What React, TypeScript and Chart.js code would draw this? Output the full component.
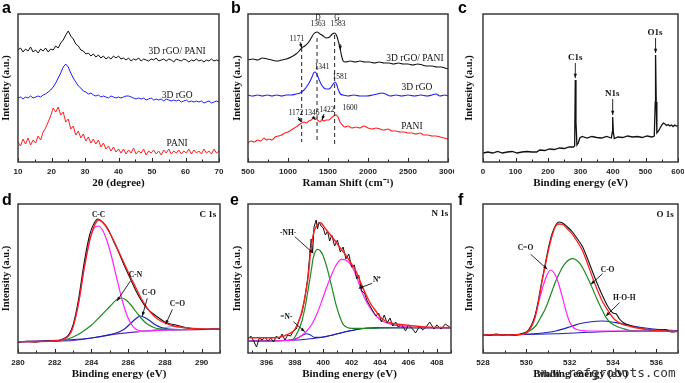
import React, { useEffect, useRef } from "react";
import { Chart, registerables } from "chart.js";
Chart.register(...registerables);

type P = [number, number][];

// ---------- Panel a : XRD (x grid 10..70 step 0.75) ----------
const A_X0 = 10;
const A_STEP = 0.75;
const A_BLACK = [112,114,110,113,111,115,110,112,109,113,111,114,110,113,112,116,114,119,122,127,131,126,123,118,116,112,111,108,109,106,108,105,107,104,106,103,105,103,106,104,106,103,104,102,104,101,103,102,104,101,103,102,101,103,102,104,101,102,103,101,103,102,100,103,102,101,103,102,100,102,101,103,101,102,100,102,101,103,101,102,101];
const A_BLUE = [64,65,63,65,64,66,64,65,66,65,67,68,70,72,75,79,84,89,95,98,95,89,84,80,76,74,71,70,68,69,67,66,67,65,66,65,64,66,65,64,65,64,65,66,66,65,64,63,64,63,64,62,63,64,62,63,62,63,61,63,62,61,62,61,62,60,61,62,60,61,60,61,60,61,59,60,61,59,60,61,60];
const A_RED = [20,16,23,18,24,17,22,19,26,22,30,34,40,46,54,50,55,47,50,40,43,33,36,27,31,24,28,21,25,19,23,18,22,15,19,13,16,11,15,10,13,9,13,8,12,9,14,8,11,9,13,7,11,9,12,8,11,7,12,9,13,8,11,9,12,8,11,9,13,8,12,9,11,8,13,9,11,8,13,9,11];
const A_TICKS = [10, 20, 30, 40, 50, 60, 70];

// ---------- Panel b : Raman ----------
const B_BLACK: P = [[500,102],[560,103],[620,102],[680,104],[740,103],[800,102],[860,101],[920,102],[980,103],[1040,105],[1100,108],[1140,111],[1171,114],[1210,116],[1250,119],[1290,124],[1320,128],[1363,130],[1400,128],[1440,126],[1480,124],[1520,125],[1555,128],[1583,129],[1610,126],[1635,119],[1650,114],[1670,106],[1690,101],[1720,100],[1780,101],[1840,100],[1900,101],[1960,100],[2020,100],[2080,99],[2140,100],[2200,99],[2260,99],[2320,98],[2380,99],[2440,98],[2500,98],[2560,97],[2620,98],[2680,97],[2740,96],[2800,96],[2860,95],[2920,95],[2960,94],[3000,93]];
const B_BLUE: P = [[500,67],[560,66],[620,67],[680,66],[740,67],[800,66],[860,67],[920,66],[980,67],[1040,67],[1100,68],[1150,69],[1200,72],[1240,76],[1270,80],[1300,85],[1320,89],[1341,90],[1365,87],[1390,82],[1420,77],[1450,74],[1480,73],[1510,73],[1540,75],[1565,78],[1590,80],[1610,77],[1630,72],[1655,68],[1690,67],[1750,66],[1820,67],[1900,66],[1980,66],[2060,67],[2120,68],[2170,69],[2220,68],[2280,66],[2350,67],[2420,66],[2500,67],[2580,66],[2660,67],[2740,66],[2800,67],[2850,68],[2900,66],[2960,67],[3000,66]];
const B_RED: P = [[500,19],[540,21],[580,20],[620,22],[660,21],[700,24],[730,22],[760,23],[800,22],[840,25],[880,26],[920,27],[960,29],[1000,30],[1040,32],[1080,34],[1120,36],[1150,38],[1172,39],[1200,40],[1230,39],[1260,41],[1290,42],[1320,44],[1346,44],[1370,42],[1400,40],[1422,42],[1450,41],[1480,42],[1510,42],[1540,44],[1570,46],[1600,47],[1625,45],[1650,40],[1680,37],[1710,35],[1750,36],[1800,34],[1850,35],[1900,34],[1950,36],[2000,34],[2050,33],[2100,34],[2150,33],[2200,32],[2250,33],[2300,31],[2350,31],[2400,30],[2450,30],[2500,29],[2550,29],[2600,28],[2650,29],[2700,27],[2750,27],[2800,26],[2850,26],[2900,25],[2950,24],[3000,23]];
const B_DASH_1: P = [[1171,114],[1171,20]];
const B_DASH_2: P = [[1363,124],[1363,19]];
const B_DASH_3: P = [[1583,127],[1583,15]];
const B_TICKS = [500, 1000, 1500, 2000, 2500, 3000];

// ---------- Panel c : XPS survey ----------
const C_BLACK: P = [[0,9],[15,10],[30,9],[45,10.5],[60,9],[75,10],[90,10.5],[105,9],[120,10],[135,10.5],[150,10],[165,10],[175,12],[190,11.5],[205,13],[220,12.5],[235,14],[250,13.5],[265,15],[278,15],[282,16],[284,82],[286,40],[289,17],[293,19],[298,24],[305,25.5],[320,24],[335,25.5],[350,24.5],[365,24],[380,25.5],[395,24],[398,30],[399,45],[401,30],[404,23.5],[415,25],[430,24.5],[445,26],[460,25],[475,25.5],[490,24.5],[505,26],[520,25],[527,26],[530,60],[531,107],[533,60],[535,29],[540,31],[545,34],[550,37],[555,39],[560,38],[565,36.5],[570,37.5],[575,36],[580,37],[585,35.5],[590,37],[595,36],[600,36.5]];
const C_TICKS = [0, 100, 200, 300, 400, 500, 600];

// ---------- Panel d : C 1s ----------
const D_BG: P = [[280,11.3],[281,11.5],[282,11.8],[283,12.5],[283.5,13.5],[284,15],[284.5,16.5],[285,18],[285.5,19.3],[286,20.3],[286.5,21.2],[287,22],[287.5,22.6],[288,23],[289,23.4],[290,23.6],[291,23.7]];
const D_CC: P = [[280,11.3],[282,11.8],[282.5,13.5],[283,27],[283.3,50],[283.6,85],[283.9,113],[284.15,125],[284.35,127],[284.6,123],[284.85,112],[285.1,96],[285.35,77],[285.6,58],[285.85,42],[286.1,31],[286.4,24],[286.8,22],[287.2,22.2],[288,23],[289,23.4],[291,23.7]];
const D_CN: P = [[280,11.3],[282,11.9],[282.5,13],[283,16],[283.5,21],[284,28],[284.5,37],[285,46.5],[285.35,53],[285.6,55],[285.85,53.5],[286.1,49],[286.4,42],[286.7,35],[287,29.5],[287.4,25.5],[287.8,23.8],[288.3,23.3],[289,23.4],[291,23.7]];
const D_CO: P = [[280,11.3],[284,15],[285,18.3],[285.5,21],[285.8,24],[286.1,29],[286.4,34],[286.65,37],[286.9,35.5],[287.2,32],[287.5,28],[287.8,25.5],[288.2,24],[288.8,23.5],[291,23.7]];
const D_CEO: P = [[286.5,21.3],[287.5,23.2],[288,25.3],[288.4,26.5],[288.8,25.8],[289.3,24.4],[290,23.8],[291,23.7]];
const D_FIT: P = [[280,11.3],[281,11.5],[282,12],[282.5,14],[282.8,18],[283,26],[283.3,50],[283.6,84],[283.9,112],[284.15,127],[284.4,133],[284.65,130],[284.9,123],[285.2,113],[285.5,101],[285.8,89],[286.1,77],[286.4,66],[286.7,55],[287,46],[287.3,39],[287.6,34],[288,30],[288.5,27],[289,25.5],[289.5,24.7],[290,24.2],[291,23.8]];
const D_RAW: P = [[280,11],[280.5,11.6],[281,11.1],[281.5,12],[282,11.7],[282.5,14.5],[282.8,19],[283,28],[283.3,54],[283.6,90],[283.9,118],[284.15,130],[284.35,134],[284.6,131],[284.9,124],[285.2,112],[285.5,100],[285.8,87],[286.1,75],[286.4,63],[286.7,53],[287,45],[287.3,40],[287.6,36],[288,31],[288.3,29],[288.6,28],[289,26],[289.4,24.5],[289.8,24],[290.2,23.5],[290.6,24],[291,23.5]];
const D_TICKS = [280, 282, 284, 286, 288, 290];

// ---------- Panel e : N 1s ----------
const E_BG: P = [[394.7,12],[397.8,12.7],[398.8,13.8],[399.7,15.3],[400.5,17.5],[401.3,20.3],[402.2,23],[403,24.7],[404,25.2],[404.9,25.3],[409,25.3]];
const E_N: P = [[394.7,12],[397.6,12.7],[398.2,15],[398.5,17.5],[398.8,19.3],[399.1,18],[399.4,15.6],[399.8,15.6],[400.5,17.5],[401.3,20.3],[402.2,23],[403,24.7],[404,25.2],[409,25.3]];
const E_NH: P = [[394.7,12],[397.8,13],[398.2,21],[398.5,32],[398.75,48],[398.96,65.3],[399.15,82],[399.3,95.3],[399.6,103.7],[399.8,102],[400,97],[400.25,86],[400.5,72],[400.75,57],[400.96,45.3],[401.2,35],[401.4,28.7],[401.7,25.5],[402,24.7],[403,24.7],[404.9,25.3],[409,25.3]];
const E_NP: P = [[394.7,12],[397.8,12.7],[398.25,15.3],[398.7,20],[399.2,28.7],[399.55,39],[399.9,52],[400.25,66],[400.6,78.7],[400.95,89],[401.3,93.7],[401.65,92.5],[402,87],[402.35,76],[402.7,62],[403.05,51],[403.45,42],[403.8,36],[404.15,32],[404.7,29],[405.3,27],[406,26],[407.2,25.3],[409,25.3]];
const E_FIT: P = [[394.7,15.3],[396.6,15.3],[397.5,18.7],[398,23.7],[398.5,42],[398.96,78.7],[399.1,100],[399.3,118.7],[399.55,128],[399.8,130.3],[400.1,125.3],[400.4,120],[400.85,112],[401.2,105],[401.55,98.7],[401.9,91],[402.3,82],[402.65,70],[403,58.7],[403.35,49],[403.7,42],[404,36],[404.4,32],[404.8,30],[405.3,28.7],[407.2,26],[409,25.3]];
const E_RAW: P = [[394.7,14],[394.9,17],[395.1,12],[395.3,6],[395.5,15],[395.7,13],[395.9,16],[396.1,12],[396.3,15],[396.5,11],[396.7,17],[396.9,14],[397.1,19],[397.3,13],[397.5,18],[397.7,17],[397.9,22],[398.1,24],[398.3,33],[398.5,40],[398.7,55],[398.9,74],[399.05,98],[399.15,114],[399.25,100],[399.35,126],[399.5,133],[399.6,124],[399.7,131],[399.85,127],[400,125],[400.15,118],[400.3,122],[400.45,112],[400.6,118],[400.8,107],[401,113],[401.2,101],[401.4,106],[401.6,94],[401.8,99],[402,86],[402.2,88],[402.35,74],[402.5,78],[402.7,62],[402.9,60],[403.1,52],[403.3,47],[403.5,42],[403.7,37],[403.9,40],[404.1,31],[404.3,38],[404.5,30],[404.7,35],[404.9,27],[405.1,31],[405.3,26],[405.5,29],[405.8,22],[406,28],[406.3,24],[406.5,20],[406.8,27],[407,23],[407.3,27],[407.5,31],[407.8,24],[408,28],[408.3,24],[408.6,29],[409,25]];
const E_TICKS = [396, 398, 400, 402, 404, 406, 408];

// ---------- Panel f : O 1s ----------
const F_BG: P = [[528,18],[531.36,19.3],[532.9,20.7],[534.45,21.7],[537,22]];
const F_HOH: P = [[528,18],[529.8,18.7],[530.5,19.5],[531.36,22],[532.13,27],[532.5,29.5],[532.9,31],[533.5,32],[534.14,30.3],[534.5,28.8],[534.9,27],[535.5,25],[536,23.7],[537,22]];
const F_CEO: P = [[528,18],[529.8,18.7],[530.1,22],[530.27,28.7],[530.43,39],[530.58,52],[530.75,65],[530.9,75.3],[531.12,83],[531.36,77],[531.52,67],[531.67,55.3],[531.82,43],[531.98,32],[532.15,26],[532.3,23.7],[532.9,22],[537,22]];
const F_CO: P = [[528,18],[529.8,18.7],[530.1,21.5],[530.43,27],[530.65,35],[530.9,45.3],[531.12,58],[531.36,72],[531.6,83],[531.82,90.3],[532.13,94.3],[532.5,88.7],[532.7,81],[532.9,72],[533.1,62],[533.3,52],[533.5,43],[533.68,35.3],[533.9,30],[534.14,27],[534.45,24.5],[534.76,22.7],[535.5,22.2],[537,22]];
const F_FIT: P = [[528,18],[529,18.2],[529.8,18.7],[530.1,22],[530.4,35.3],[530.55,50],[530.7,68.7],[530.88,88],[531.05,105.3],[531.2,118],[531.36,127],[531.5,129],[531.67,128.7],[531.9,124],[532.13,118.7],[532.36,111],[532.6,102],[532.83,89],[533.06,75.3],[533.28,63],[533.5,52],[533.75,43],[534,35.3],[534.2,31.5],[534.45,28.7],[534.8,26.5],[535.2,24.7],[536,22.7],[537,21.3]];
const F_RAW: P = [[528,18.5],[528.3,17.5],[528.6,19],[528.9,18],[529.2,18.5],[529.5,17.8],[529.8,19.5],[530.1,23],[530.4,37],[530.55,52],[530.7,70],[530.88,90],[531.05,108],[531.2,120],[531.36,128],[531.5,131],[531.67,130],[531.9,126],[532.13,121],[532.36,114],[532.6,106],[532.83,94],[533.06,81],[533.28,69],[533.5,58],[533.75,47],[534,40],[534.15,39],[534.3,34],[534.5,30],[534.8,27.5],[535.2,25],[535.6,23.5],[536,22.5],[536.4,23.5],[536.7,21],[537,22]];
const F_TICKS = [528, 530, 532, 534, 536];

// ---------- helpers ----------
const SERIF = '"Liberation Serif", "Times New Roman", serif';
const SANS = '"Liberation Sans", Arial, sans-serif';

const pts = (p: P) => p.map(([x, y]) => ({ x, y }));
const gridPts = (ys: number[], x0: number, step: number) => ys.map((y, i) => ({ x: x0 + i * step, y }));
function ln(data: any[], color: string, width = 1, extra: any = {}) {
  return { data, borderColor: color, borderWidth: width, pointRadius: 0, fill: false, tension: 0, ...extra };
}
const SM = { cubicInterpolationMode: "monotone" };

type Txt = { t: string; x: number; y: number; s: number; b?: boolean; a?: CanvasTextAlign };
type Arr = [number, number, number, number];

interface Cfg {
  left: number; top: number; w: number; h: number;
  padT: number; padR: number; yW: number; yPad: number; yMax: number;
  xMin: number; xMax: number; ticks: number[]; minor: number; xTitle: string;
  datasets: any[]; texts: Txt[]; arrows: Arr[];
}

const BLK = "#111";
const RED = "#ff1f1f";
const BLU = "#1f1fff";
const MAG = "#ff22ff";
const GRN = "#1e8a1e";
const NAV = "#2020b8";
const PUR = "#5a2ad0";

const PANELS: Cfg[] = [
  {
    left: 0, top: 0, w: 226, h: 192, padT: 14, padR: 7, yW: 18, yPad: 0, yMax: 148,
    xMin: 10, xMax: 70, ticks: A_TICKS, minor: 5, xTitle: "2θ (degree)",
    datasets: [
      ln(gridPts(A_BLACK, A_X0, A_STEP), BLK, 1),
      ln(gridPts(A_BLUE, A_X0, A_STEP), BLU, 1),
      ln(gridPts(A_RED, A_X0, A_STEP), RED, 1),
    ],
    texts: [
      { t: "3D rGO/ PANI", x: 57.5, y: 111, s: 9.5 },
      { t: "3D rGO", x: 57.5, y: 67, s: 9.5 },
      { t: "PANI", x: 57.5, y: 19, s: 9.5 },
    ],
    arrows: [],
  },
  {
    left: 230, top: 0, w: 224, h: 192, padT: 14, padR: 6, yW: 18, yPad: 1.4, yMax: 148,
    xMin: 500, xMax: 3000, ticks: B_TICKS, minor: 250, xTitle: "Raman Shift (cm⁻¹)",
    datasets: [
      ln(pts(B_DASH_1), "#222", 1, { borderDash: [4, 3] }),
      ln(pts(B_DASH_2), "#222", 1, { borderDash: [4, 3] }),
      ln(pts(B_DASH_3), "#222", 1, { borderDash: [4, 3] }),
      ln(pts(B_BLACK), BLK, 1.1, SM),
      ln(pts(B_BLUE), BLU, 1.1, SM),
      ln(pts(B_RED), RED, 1.1, SM),
    ],
    texts: [
      { t: "D", x: 1375, y: 144, s: 7.5 },
      { t: "1363", x: 1375, y: 138, s: 7.5 },
      { t: "G", x: 1612, y: 144, s: 7.5 },
      { t: "1583", x: 1625, y: 138, s: 7.5 },
      { t: "1171", x: 1112, y: 123, s: 7.5 },
      { t: "1341", x: 1425, y: 95, s: 7.5 },
      { t: "1581", x: 1650, y: 85, s: 7.5 },
      { t: "3D rGO/ PANI", x: 2587, y: 104, s: 9.5 },
      { t: "3D rGO", x: 2612, y: 75, s: 9.5 },
      { t: "PANI", x: 2550, y: 36, s: 9.5 },
      { t: "1172", x: 1100, y: 49, s: 7.5 },
      { t: "1346", x: 1300, y: 49, s: 7.5 },
      { t: "1422", x: 1487, y: 52, s: 7.5 },
      { t: "1600", x: 1775, y: 54, s: 7.5 },
    ],
    arrows: [
      [1150, 120, 1172, 114],
      [1125, 45, 1165, 40],
      [1310, 45, 1345, 42],
      [1450, 48, 1425, 42],
      [1652, 118, 1655, 112],
    ],
  },
  {
    left: 462, top: 0, w: 222, h: 192, padT: 14, padR: 6, yW: 21, yPad: 1.4, yMax: 148,
    xMin: 0, xMax: 600, ticks: C_TICKS, minor: 50, xTitle: "Binding energy (eV)",
    datasets: [ln(pts(C_BLACK), BLK, 1.3)],
    texts: [
      { t: "C1s", x: 283.6, y: 104, s: 9, b: true },
      { t: "N1s", x: 398, y: 68, s: 9, b: true },
      { t: "O1s", x: 529, y: 129, s: 9, b: true },
    ],
    arrows: [
      [284, 99, 284, 84],
      [399, 63, 399, 47],
      [531, 124, 531, 109],
    ],
  },
  {
    left: 0, top: 192, w: 226, h: 191, padT: 12, padR: 6, yW: 18, yPad: 0, yMax: 149,
    xMin: 280, xMax: 291, ticks: D_TICKS, minor: 1, xTitle: "Binding energy (eV)",
    datasets: [
      ln(pts(D_FIT), RED, 1.3, SM),
      ln(pts(D_RAW), BLK, 1.1, SM),
      ln(pts(D_CC), MAG, 1.2, SM),
      ln(pts(D_CN), GRN, 1.2, SM),
      ln(pts(D_CO), NAV, 1.2, SM),
      ln(pts(D_CEO), "#8f9fc0", 1.1, SM),
      ln(pts(D_BG), PUR, 1.2, SM),
    ],
    texts: [
      { t: "C-C", x: 284.39, y: 138, s: 7.5, b: true },
      { t: "C 1s", x: 290.8, y: 138.7, s: 9, b: true, a: "right" },
      { t: "C-N", x: 286.4, y: 78, s: 7.5, b: true },
      { t: "C-O", x: 287.13, y: 59.7, s: 7.5, b: true },
      { t: "C=O", x: 288.68, y: 48.7, s: 7.5, b: true },
    ],
    arrows: [
      [286.12, 72, 285.39, 52],
      [287.04, 54.7, 286.77, 37],
      [288.41, 43.7, 288.04, 28.7],
    ],
  },
  {
    left: 230, top: 192, w: 227, h: 191, padT: 12, padR: 6, yW: 18, yPad: 1.4, yMax: 149,
    xMin: 394.7, xMax: 409, ticks: E_TICKS, minor: 1, xTitle: "Binding energy (eV)",
    datasets: [
      ln(pts(E_FIT), RED, 1.4, SM),
      ln(pts(E_RAW), BLK, 1),
      ln(pts(E_NP), MAG, 1.2, SM),
      ln(pts(E_NH), GRN, 1.2, SM),
      ln(pts(E_N), NAV, 1.1, SM),
      ln(pts(E_BG), NAV, 1.1, SM),
    ],
    texts: [
      { t: "N 1s", x: 408.8, y: 139.7, s: 9, b: true, a: "right" },
      { t: "-NH-", x: 397.53, y: 119.7, s: 7.5, b: true },
      { t: "N⁺", x: 403.8, y: 73, s: 7.5, b: true },
      { t: "=N-", x: 397.4, y: 35.7, s: 7.5, b: true },
    ],
    arrows: [
      [398.0, 116.3, 399.3, 99.7],
      [403.45, 69.7, 402.5, 64.7],
      [397.9, 31.3, 398.7, 21.3],
    ],
  },
  {
    left: 462, top: 192, w: 222, h: 191, padT: 12, padR: 6, yW: 21, yPad: 1.4, yMax: 149,
    xMin: 528, xMax: 537, ticks: F_TICKS, minor: 1, xTitle: "Binding energy (eV)",
    datasets: [
      ln(pts(F_FIT), RED, 1.3, SM),
      ln(pts(F_RAW), BLK, 1.1, SM),
      ln(pts(F_CEO), MAG, 1.2, SM),
      ln(pts(F_CO), GRN, 1.2, SM),
      ln(pts(F_HOH), NAV, 1.2, SM),
      ln(pts(F_BG), NAV, 1.1, SM),
    ],
    texts: [
      { t: "O 1s", x: 536.8, y: 138.7, s: 9, b: true, a: "right" },
      { t: "C=O", x: 529.96, y: 104.7, s: 7.5, b: true },
      { t: "C-O", x: 533.75, y: 83, s: 7.5, b: true },
      { t: "H-O-H", x: 534.52, y: 54.7, s: 7.5, b: true },
    ],
    arrows: [
      [530.2, 98.7, 530.97, 83.7],
      [533.52, 79.3, 532.98, 68.7],
      [534.3, 50.3, 533.67, 37],
    ],
  },
];

function makePlugin(cfg: Cfg) {
  return {
    id: "deco",
    afterDatasetsDraw(chart: any) {
      const { ctx, chartArea: ca } = chart;
      const xs = chart.scales.x;
      const ys = chart.scales.y;
      ctx.save();
      // inward ticks
      ctx.strokeStyle = "#222";
      ctx.lineWidth = 1;
      const start = Math.ceil(cfg.xMin / cfg.minor) * cfg.minor;
      for (let v = start; v <= cfg.xMax + 1e-9; v += cfg.minor) {
        const px = Math.round(xs.getPixelForValue(v)) + 0.5;
        const major = cfg.ticks.some((t) => Math.abs(t - v) < 1e-6);
        ctx.beginPath();
        ctx.moveTo(px, ca.bottom);
        ctx.lineTo(px, ca.bottom - (major ? 4 : 2.5));
        ctx.stroke();
      }
      // frame
      ctx.strokeStyle = "#3a3a3a";
      ctx.lineWidth = 1.5;
      ctx.strokeRect(ca.left, ca.top, ca.right - ca.left, ca.bottom - ca.top);
      // arrows
      ctx.fillStyle = "#111";
      ctx.strokeStyle = "#111";
      ctx.lineWidth = 0.9;
      cfg.arrows.forEach(([a, b, c, d]) => {
        const x1 = xs.getPixelForValue(a), y1 = ys.getPixelForValue(b);
        const x2 = xs.getPixelForValue(c), y2 = ys.getPixelForValue(d);
        ctx.beginPath();
        ctx.moveTo(x1, y1);
        ctx.lineTo(x2, y2);
        ctx.stroke();
        const ang = Math.atan2(y2 - y1, x2 - x1);
        const h = 4.5;
        ctx.beginPath();
        ctx.moveTo(x2, y2);
        ctx.lineTo(x2 - h * Math.cos(ang - 0.38), y2 - h * Math.sin(ang - 0.38));
        ctx.lineTo(x2 - h * Math.cos(ang + 0.38), y2 - h * Math.sin(ang + 0.38));
        ctx.closePath();
        ctx.fill();
      });
      // texts
      cfg.texts.forEach((t) => {
        ctx.font = `${t.b ? "bold " : ""}${t.s}px ${SERIF}`;
        ctx.textAlign = t.a || "center";
        ctx.textBaseline = "middle";
        ctx.fillText(t.t, xs.getPixelForValue(t.x), ys.getPixelForValue(t.y));
      });
      ctx.restore();
    },
  };
}

function buildConfig(cfg: Cfg): any {
  return {
    type: "line",
    data: { datasets: cfg.datasets },
    plugins: [makePlugin(cfg)],
    options: {
      animation: false,
      responsive: false,
      maintainAspectRatio: false,
      events: [],
      layout: { padding: { left: 0, top: cfg.padT, right: cfg.padR, bottom: 0 } },
      plugins: { legend: { display: false }, tooltip: { enabled: false } },
      scales: {
        x: {
          type: "linear",
          min: cfg.xMin,
          max: cfg.xMax,
          grid: { display: false, drawTicks: false },
          border: { display: false },
          afterBuildTicks: (s: any) => {
            s.ticks = cfg.ticks.map((v) => ({ value: v }));
          },
          afterFit: (s: any) => {
            s.height = 30;
            s.paddingLeft = 0;
            s.paddingRight = 0;
          },
          ticks: {
            autoSkip: false,
            maxRotation: 0,
            padding: 5,
            color: "#222",
            font: { family: SANS, size: 8, weight: "bold" },
            callback: (v: number) => String(v),
          },
          title: {
            display: true,
            text: cfg.xTitle,
            color: "#111",
            font: { family: SERIF, size: 11, weight: "bold" },
            padding: { top: 0, bottom: 2.4 },
          },
        },
        y: {
          type: "linear",
          min: 0,
          max: cfg.yMax,
          grid: { display: false, drawTicks: false },
          border: { display: false },
          ticks: { display: false },
          afterFit: (s: any) => {
            s.width = cfg.yW;
            s.paddingTop = 0;
            s.paddingBottom = 0;
          },
          title: {
            display: true,
            text: "Intensity (a.u.)",
            color: "#111",
            font: { family: SERIF, size: 10.5, weight: "bold" },
            padding: { top: cfg.yPad, bottom: 0 },
          },
        },
      },
    },
  };
}

function Panel({ cfg }: { cfg: Cfg }) {
  const ref = useRef<HTMLCanvasElement>(null);
  useEffect(() => {
    const chart = new Chart(ref.current as HTMLCanvasElement, buildConfig(cfg));
    return () => chart.destroy();
  }, [cfg]);
  return (
    <canvas
      ref={ref}
      width={cfg.w}
      height={cfg.h}
      style={{ position: "absolute", left: cfg.left, top: cfg.top, width: cfg.w, height: cfg.h }}
    />
  );
}

const LETTERS: { t: string; x: number; y: number }[] = [
  { t: "a", x: 2, y: 0 },
  { t: "b", x: 231, y: 0 },
  { t: "c", x: 458, y: 0 },
  { t: "d", x: 2, y: 192 },
  { t: "e", x: 230, y: 192 },
  { t: "f", x: 458, y: 192 },
];

export default function App() {
  return (
    <div style={{ position: "absolute", left: 0, top: 0, width: 685, height: 383, background: "#fff", overflow: "hidden" }}>
      {PANELS.map((p, i) => (
        <Panel key={i} cfg={p} />
      ))}
      {LETTERS.map((l) => (
        <div
          key={l.t}
          style={{ position: "absolute", left: l.x, top: l.y, font: `bold 16px/16px ${SANS}`, color: "#000" }}
        >
          {l.t}
        </div>
      ))}
      <div
        style={{ position: "absolute", left: 537, top: 365, font: `12.8px/16px "DejaVu Sans Mono", monospace`, color: "#333", whiteSpace: "nowrap" }}
      >
        www.refgrobots.com
      </div>
    </div>
  );
}
